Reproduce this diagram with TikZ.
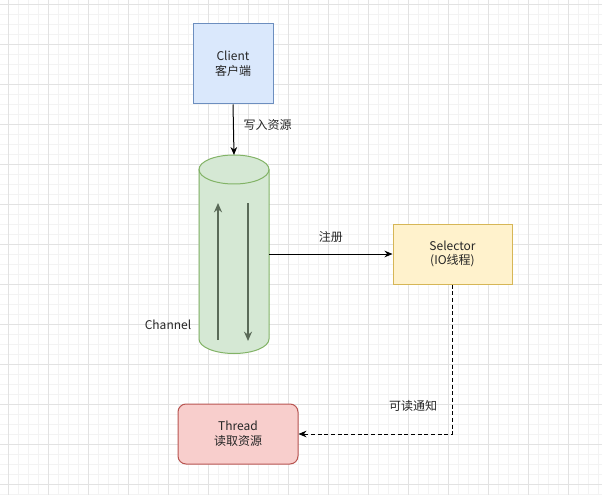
\documentclass[tikz,border=0pt]{standalone}
\usepackage{fontspec}
\setmainfont{Noto Sans CJK SC}
\usetikzlibrary{arrows.meta}
\definecolor{gridmin}{HTML}{F3F3F3}
\definecolor{gridmaj}{HTML}{E2E2E2}
\definecolor{cfill}{HTML}{DAE8FC}\definecolor{cdraw}{HTML}{6C8EBF}
\definecolor{gfill}{HTML}{D5E8D4}\definecolor{gdraw}{HTML}{82B366}
\definecolor{yfill}{HTML}{FFF2CC}\definecolor{ydraw}{HTML}{D6B656}
\definecolor{rfill}{HTML}{F8CECC}\definecolor{rdraw}{HTML}{B85450}
\definecolor{inarr}{HTML}{5A6A58}
\tikzset{
  box/.style={draw, line width=0.75pt, align=center, font=\fontsize{9}{11}\selectfont, text=black!85, inner sep=0pt},
  conn/.style={line width=0.75pt, -{Stealth[length=6pt,width=5pt]}},
  lbl/.style={font=\fontsize{9}{11}\selectfont, text=black!85},
}
\begin{document}
\begin{tikzpicture}[x=0.75pt,y=-0.75pt]
\useasboundingbox (0,0) rectangle (602,495);
\fill[white] (0,0) rectangle (602,495);
% grid
\foreach \i in {-2,...,60} {\draw[gridmin,line width=0.4pt] ({8+10*\i},0) -- ({8+10*\i},495);}
\foreach \i in {-1,...,50} {\draw[gridmin,line width=0.4pt] (0,{4+10*\i}) -- (602,{4+10*\i});}
\foreach \i in {0,...,15} {\draw[gridmaj,line width=0.5pt] ({8+40*\i},0) -- ({8+40*\i},495);}
\foreach \i in {0,...,12} {\draw[gridmaj,line width=0.5pt] (0,{4+40*\i}) -- (602,{4+40*\i});}
% Client
\node[box, fill=cfill, draw=cdraw, minimum width=60pt, minimum height=60pt] (client) at (233,64) {Client\\客户端};
% Channel cylinder
\fill[gfill] (199,169.5) -- (199,339) arc[start angle=180,end angle=0,x radius=35,y radius=14.5] -- (269,169.5) arc[start angle=0,end angle=-180,x radius=35,y radius=14.5] -- cycle;
\draw[gdraw,line width=0.75pt] (199,169.5) -- (199,339) arc[start angle=180,end angle=0,x radius=35,y radius=14.5] -- (269,169.5);
\draw[gdraw,line width=0.75pt] (234,169.5) ellipse[x radius=35,y radius=14.5];
\node[minimum width=52.5pt, minimum height=148.5pt, inner sep=0pt] (chan) at (234,254) {};
\coordinate (chtop) at (234,155);
\coordinate (upB) at (218,340); \coordinate (upT) at (218,203);
\coordinate (dnT) at (248,203); \coordinate (dnB) at (248,341);
\draw[inarr, line width=1.5pt, -{Stealth[length=7pt,width=6pt]}] (upB) -- (upT);
\draw[inarr, line width=1.5pt, -{Stealth[length=7pt,width=6pt]}] (dnT) -- (dnB);
\node[lbl] (chlabel) at (168,325) {Channel};
% Selector
\node[box, fill=yfill, draw=ydraw, minimum width=89.25pt, minimum height=45pt] (sel) at (452.5,254) {Selector\\(IO线程)};
% Thread
\node[box, fill=rfill, draw=rdraw, rounded corners=6pt, minimum width=90pt, minimum height=45pt] (thr) at (238,434) {Thread\\读取资源};
% connectors
\draw[conn] (client.south) -- node[lbl, right=4pt, pos=0.4] {写入资源} (chtop);
\draw[conn] (chan.east) -- node[lbl, above=5pt] {注册} (sel.west);
\coordinate (corner) at (452,434);
\draw[conn, dashed, dash pattern=on 3pt off 2pt] (sel.south -| corner) -- (corner) -- (thr.east);
\node[lbl] (notify) at (413,406) {可读通知};
\end{tikzpicture}
\end{document}
